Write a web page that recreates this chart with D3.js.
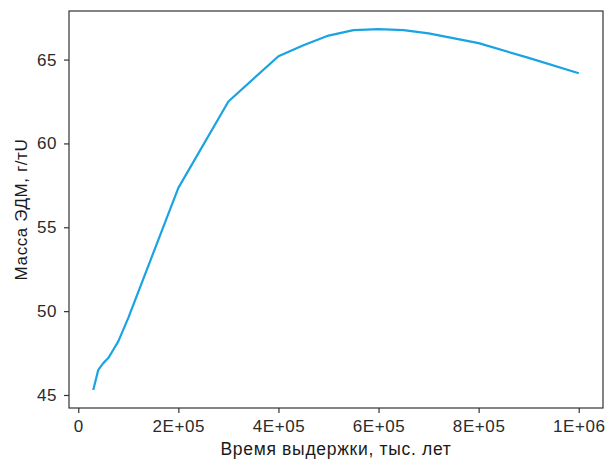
<!DOCTYPE html>
<html>
<head>
<meta charset="utf-8">
<script src="https://cdn.jsdelivr.net/npm/d3@7"></script>
<style>
    body { margin: 0; background: #fff; }
    svg text { font-family: "Liberation Sans", Arial, sans-serif; }
</style>
</head>
<body>
<svg id="chart" width="606" height="461"></svg>
<script>
// storage time, years
const years = [30000, 40000, 50000, 60000, 70000, 80000, 90000, 100000, 200000, 300000,
    400000, 450000, 500000, 550000, 600000, 650000, 700000, 800000, 900000, 1000000];
// mass, g/tU
const mass = [45.3, 46.5, 46.9, 47.2, 47.7, 48.2, 48.9, 49.6, 57.35, 62.5,
    65.2, 65.85, 66.43, 66.76, 66.82, 66.76, 66.56, 65.98, 65.1, 64.18];
const xTicks = [0, 200000, 400000, 600000, 800000, 1000000];
const xTickLabels = ["0", "2E+05", "4E+05", "6E+05", "8E+05", "1E+06"];
const yTicks = [45, 50, 55, 60, 65];

const svg = d3.select("#chart");
const margin = { left: 69, right: 3, top: 11, bottom: 53 };
const width = 606, height = 461;

// ggplot-style 5% expansion
const xExt = d3.extent(years), yExt = d3.extent(mass);
const xPad = (xExt[1] - xExt[0]) * 0.05, yPad = (yExt[1] - yExt[0]) * 0.05;

const x = d3.scaleLinear().domain([xExt[0] - xPad, xExt[1] + xPad]).range([margin.left, width - margin.right]);
const y = d3.scaleLinear().domain([yExt[0] - yPad, yExt[1] + yPad]).range([height - margin.bottom, margin.top]);

const line = d3.line().x((d, i) => x(years[i])).y(d => y(d));

svg.append("path")
    .datum(mass)
    .attr("d", line)
    .attr("fill", "none")
    .attr("stroke", "#1aa3e2")
    .attr("stroke-width", 2.2)
    .attr("stroke-linejoin", "round");

// panel border
svg.append("rect")
    .attr("x", margin.left).attr("y", margin.top)
    .attr("width", width - margin.left - margin.right)
    .attr("height", height - margin.top - margin.bottom)
    .attr("fill", "none").attr("stroke", "#333").attr("stroke-width", 1.2);

const xAxis = svg.append("g")
    .attr("transform", `translate(0,${height - margin.bottom})`)
    .call(d3.axisBottom(x).tickValues(xTicks).tickFormat((d, i) => xTickLabels[i]).tickSize(5).tickPadding(7));
const yAxis = svg.append("g")
    .attr("transform", `translate(${margin.left},0)`)
    .call(d3.axisLeft(y).tickValues(yTicks).tickFormat(d3.format("d")).tickSize(5).tickPadding(7));

[xAxis, yAxis].forEach(a => {
    a.select(".domain").remove();
    a.selectAll(".tick line").attr("stroke", "#333").attr("stroke-width", 1.2);
    a.selectAll(".tick text").attr("fill", "#2b2b2b").attr("font-size", "17px").attr("letter-spacing", "0.6px");
});

svg.append("text")
    .attr("x", (margin.left + width - margin.right) / 2)
    .attr("y", 455)
    .attr("text-anchor", "middle")
    .attr("font-size", "17.5px")
    .attr("letter-spacing", "0.7px")
    .attr("fill", "#1a1a1a")
    .text("Время выдержки, тыс. лет");

svg.append("text")
    .attr("transform", `translate(27,${(margin.top + height - margin.bottom) / 2}) rotate(-90)`)
    .attr("text-anchor", "middle")
    .attr("font-size", "17px")
    .attr("letter-spacing", "0.6px")
    .attr("fill", "#1a1a1a")
    .text("Масса ЭДМ, г/тU");
</script>
</body>
</html>
